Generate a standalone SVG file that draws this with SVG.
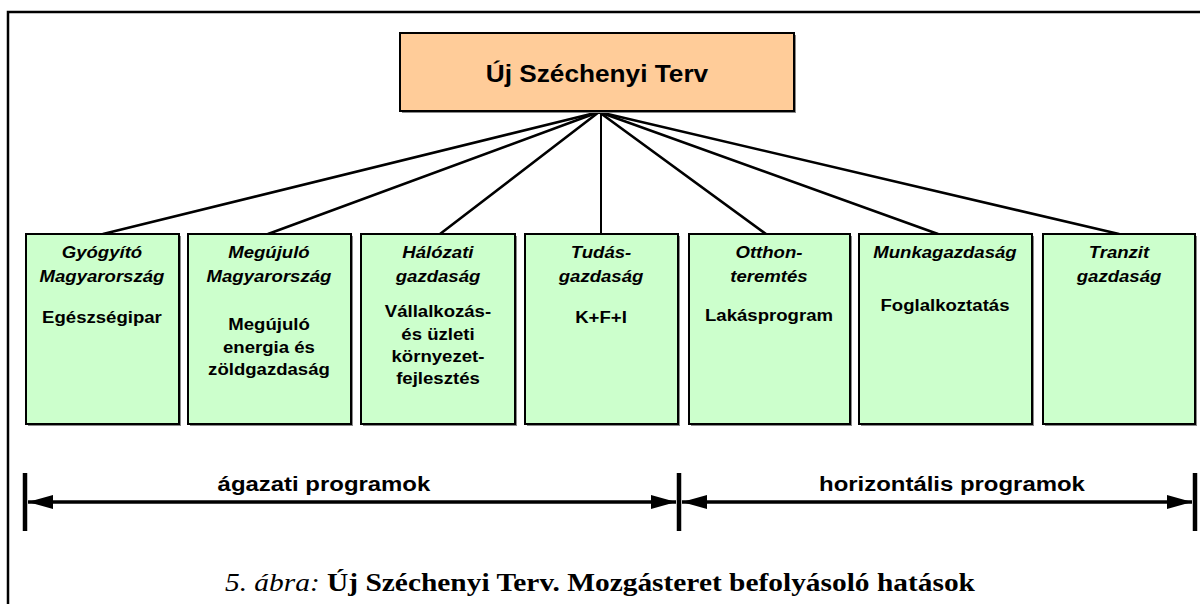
<svg xmlns="http://www.w3.org/2000/svg" width="1200" height="604" viewBox="0 0 1200 604">
  <style>
    .frame { fill: none; stroke: #000; stroke-width: 2.5; }
    .top { fill: #FFCC99; stroke: #000; stroke-width: 2; }
    .box { fill: #CCFFCC; stroke: #000; stroke-width: 2; }
    .shadow { fill: #8a8a8a; }
    .link { stroke: #000; stroke-width: 2.6; fill: none; stroke-linecap: round; }
    .vlink { stroke: #000; stroke-width: 2; fill: none; }
    .bar { stroke: #000; stroke-width: 4.5; }
    .arrow { stroke: #000; stroke-width: 3.5; fill: none; }
    text { font-family: "Liberation Sans", Arial, sans-serif; font-weight: bold; text-anchor: middle; fill: #000;
           transform-box: fill-box; transform-origin: center; transform: scaleX(1.14); }
    .h { font-size: 16.3px; font-style: italic; }
    .b { font-size: 16.3px; }
    .title { font-size: 23px; }
    .lab { font-size: 21px; }
    .cap { font-family: "Liberation Serif", "Times New Roman", serif; font-size: 25.8px; }
    .it { font-style: italic; font-weight: normal; }
  </style>
  <defs>
    <marker id="ah" viewBox="0 0 25 14" refX="25" refY="7" markerWidth="25" markerHeight="14" markerUnits="userSpaceOnUse" orient="auto-start-reverse">
      <path d="M0,0 L25,7 L0,14 Z" fill="#000"/>
    </marker>
  </defs>

  <rect class="frame" x="8" y="12" width="1210" height="610"/>

  <g id="connectors">
    <line class="link" x1="599" y1="112" x2="103" y2="234"/>
    <line class="link" x1="599" y1="112" x2="268" y2="234"/>
    <line class="link" x1="599" y1="112" x2="440" y2="234"/>
    <line class="vlink" x1="601" y1="112" x2="601" y2="234"/>
    <line class="link" x1="599" y1="112" x2="766" y2="234"/>
    <line class="link" x1="599" y1="112" x2="938" y2="234"/>
    <line class="link" x1="599" y1="112" x2="1119" y2="234"/>
  </g>

  <g id="root">
    <rect class="shadow" x="402" y="35" width="394" height="78"/>
    <rect class="top" x="400" y="33" width="394" height="78"/>
    <text class="title" x="597" y="82">Új Széchenyi Terv</text>
  </g>

  <g id="gyogyito">
    <rect class="shadow" x="28" y="236" width="153" height="190"/>
    <rect class="box" x="26" y="234" width="153" height="190"/>
    <text class="h" x="102" y="258">Gyógyító</text>
    <text class="h" x="102" y="282">Magyarország</text>
    <text class="b" x="102" y="323">Egészségipar</text>
  </g>

  <g id="megujulo">
    <rect class="shadow" x="190" y="236" width="163" height="190"/>
    <rect class="box" x="188" y="234" width="163" height="190"/>
    <text class="h" x="269" y="258">Megújuló</text>
    <text class="h" x="269" y="282">Magyarország</text>
    <text class="b" x="269" y="330">Megújuló</text>
    <text class="b" x="269" y="353">energia és</text>
    <text class="b" x="269" y="375">zöldgazdaság</text>
  </g>

  <g id="halozati">
    <rect class="shadow" x="363" y="236" width="154" height="190"/>
    <rect class="box" x="361" y="234" width="154" height="190"/>
    <text class="h" x="438" y="258">Hálózati</text>
    <text class="h" x="438" y="282">gazdaság</text>
    <text class="b" x="438" y="317">Vállalkozás-</text>
    <text class="b" x="438" y="340">és üzleti</text>
    <text class="b" x="438" y="362">környezet-</text>
    <text class="b" x="438" y="384">fejlesztés</text>
  </g>

  <g id="tudas">
    <rect class="shadow" x="527" y="236" width="153" height="190"/>
    <rect class="box" x="525" y="234" width="153" height="190"/>
    <text class="h" x="601" y="258">Tudás-</text>
    <text class="h" x="601" y="282">gazdaság</text>
    <text class="b" x="601" y="323">K+F+I</text>
  </g>

  <g id="otthon">
    <rect class="shadow" x="691" y="236" width="161" height="190"/>
    <rect class="box" x="689" y="234" width="161" height="190"/>
    <text class="h" x="769" y="258">Otthon-</text>
    <text class="h" x="769" y="282">teremtés</text>
    <text class="b" x="769" y="321">Lakásprogram</text>
  </g>

  <g id="munka">
    <rect class="shadow" x="861" y="236" width="173" height="190"/>
    <rect class="box" x="859" y="234" width="173" height="190"/>
    <text class="h" x="945" y="258">Munkagazdaság</text>
    <text class="b" x="945" y="311">Foglalkoztatás</text>
  </g>

  <g id="tranzit">
    <rect class="shadow" x="1045" y="236" width="152" height="190"/>
    <rect class="box" x="1043" y="234" width="152" height="190"/>
    <text class="h" x="1119" y="258">Tranzit</text>
    <text class="h" x="1119" y="282">gazdaság</text>
  </g>

  <g id="scale">
    <line class="bar" x1="25" y1="473" x2="25" y2="531"/>
    <line class="bar" x1="679" y1="473" x2="679" y2="531"/>
    <line class="bar" x1="1195" y1="473" x2="1195" y2="531"/>
    <line class="arrow" x1="28" y1="502" x2="676" y2="502" marker-start="url(#ah)" marker-end="url(#ah)"/>
    <line class="arrow" x1="682" y1="502" x2="1192" y2="502" marker-start="url(#ah)" marker-end="url(#ah)"/>
    <text class="lab" x="324" y="491">ágazati programok</text>
    <text class="lab" x="952" y="491">horizontális programok</text>
  </g>

  <text class="cap" x="600" y="591"><tspan class="it">5. ábra:</tspan> Új Széchenyi Terv. Mozgásteret befolyásoló hatások</text>
</svg>
